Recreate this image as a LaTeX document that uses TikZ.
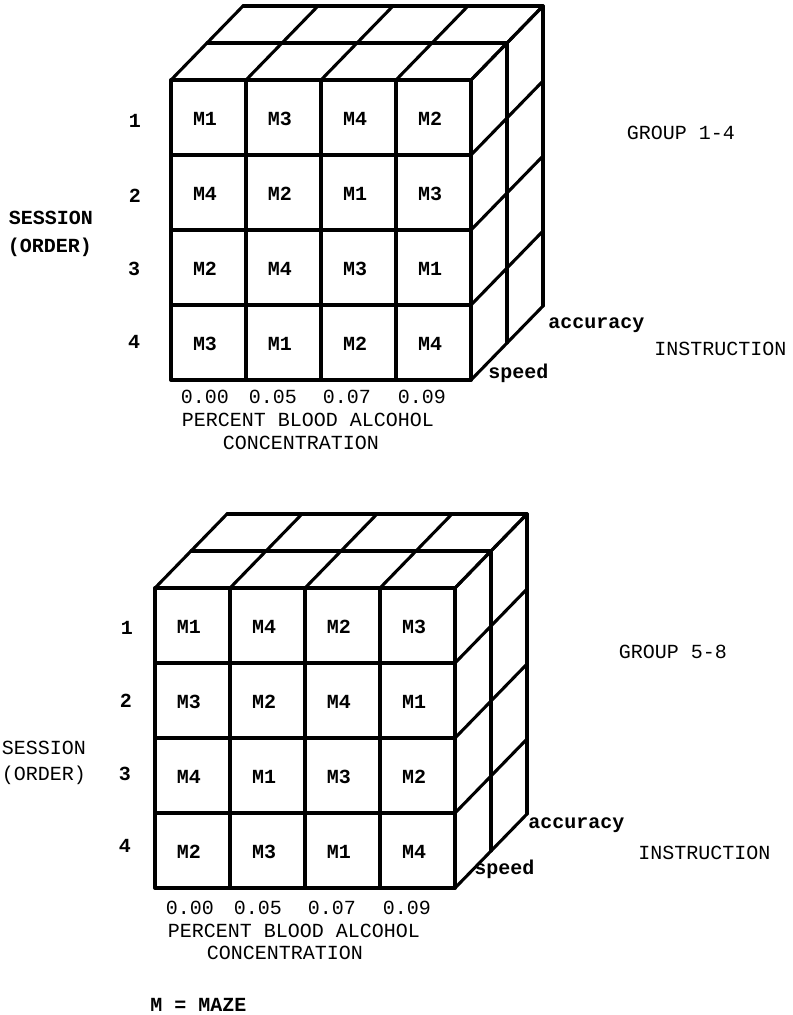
\documentclass[tikz,border=0pt]{standalone}
\usepackage{fontspec}
\setmonofont{Liberation Mono}
\newcommand\drawcube[4]{%
  \begin{scope}[shift={(#1,#2)}]
    \foreach \k in {1,2} \draw[backline] (\k*36,-\k*37) -- ++(300,0);
    \foreach \i in {0,...,4} \draw[backline] (\i*75,0) -- ++(72,-74);
    \foreach \j in {0,...,4} \draw[backline] (300,\j*75) -- ++(72,-74);
    \foreach \k in {1,2} \draw[backline] (300+\k*36,-\k*37) -- ++(0,300);
    \foreach \i in {1,2,3} \draw[frontv] (\i*75,0) -- (\i*75,300);
    \foreach \j in {1,2,3} \draw[fronth] (0,\j*75) -- (300,\j*75);
    \draw[fronth] (0,0) rectangle (300,300);
    \foreach \lab [count=\n from 0] in {#4} {
      \pgfmathtruncatemacro\rowi{div(\n,4)}
      \pgfmathtruncatemacro\coli{mod(\n,4)}
      \node[lab] (#3-\rowi-\coli) at (\coli*75+34,\rowi*75+39) {\lab};
    }
  \end{scope}}
\begin{document}
\begin{tikzpicture}[x=0.75pt,y=-0.75pt,
  lab/.style={font=\ttfamily\bfseries\fontsize{15}{17}\selectfont, inner sep=0pt},
  txt/.style={font=\ttfamily\fontsize{15}{17}\selectfont, inner sep=0pt},
  backline/.style={line width=2.3pt, line cap=round, line join=round},
  frontv/.style={line width=2.5pt, line cap=round, line join=round},
  fronth/.style={line width=3pt, line cap=round, line join=round}]
\useasboundingbox (0,0) rectangle (793,1015);

% ---------- upper cube ----------
\drawcube{171}{80}{a}{M1,M3,M4,M2,M4,M2,M1,M3,M2,M4,M3,M1,M3,M1,M2,M4}
\node[lab] (a-s1) at (135,121) {1};
\node[lab] (a-s2) at (135,196) {2};
\node[lab] (a-s3) at (134,269) {3};
\node[lab] (a-s4) at (134,342) {4};
\node[lab] (a-session) at (51,218) {SESSION};
\node[lab] (a-order) at (50,247) {(ORDER)};
\node[txt] (a-group) at (681,133) {GROUP 1-4};
\node[lab, anchor=west] (a-acc) at (548,325) {accuracy};
\node[txt, anchor=west] (a-instr) at (654,349) {INSTRUCTION};
\node[lab, anchor=west] (a-speed) at (488,373) {speed};
\node[txt] (a-v1) at (205,397) {0.00};
\node[txt] (a-v2) at (273,397) {0.05};
\node[txt] (a-v3) at (347,397) {0.07};
\node[txt] (a-v4) at (422,397) {0.09};
\node[txt] (a-pbac) at (308,420) {PERCENT BLOOD ALCOHOL};
\node[txt] (a-conc) at (301,443) {CONCENTRATION};

% ---------- lower cube ----------
\drawcube{155}{588}{b}{M1,M4,M2,M3,M3,M2,M4,M1,M4,M1,M3,M2,M2,M3,M1,M4}
\node[lab] (b-s1) at (127,628) {1};
\node[lab] (b-s2) at (126,701) {2};
\node[lab] (b-s3) at (125,774) {3};
\node[lab] (b-s4) at (125,846) {4};
\node[txt] (b-session) at (44,748) {SESSION};
\node[txt] (b-order) at (44,775) {(ORDER)};
\node[txt] (b-group) at (673,652) {GROUP 5-8};
\node[lab, anchor=west] (b-acc) at (528,825) {accuracy};
\node[txt, anchor=west] (b-instr) at (638,853) {INSTRUCTION};
\node[lab, anchor=west] (b-speed) at (474,869) {speed};
\node[txt] (b-v1) at (190,908) {0.00};
\node[txt] (b-v2) at (258,908) {0.05};
\node[txt] (b-v3) at (332,908) {0.07};
\node[txt] (b-v4) at (407,908) {0.09};
\node[txt] (b-pbac) at (294,931) {PERCENT BLOOD ALCOHOL};
\node[txt] (b-conc) at (285,953) {CONCENTRATION};

\node[lab, anchor=west] (maze) at (150,1005) {M = MAZE};
\end{tikzpicture}
\end{document}
